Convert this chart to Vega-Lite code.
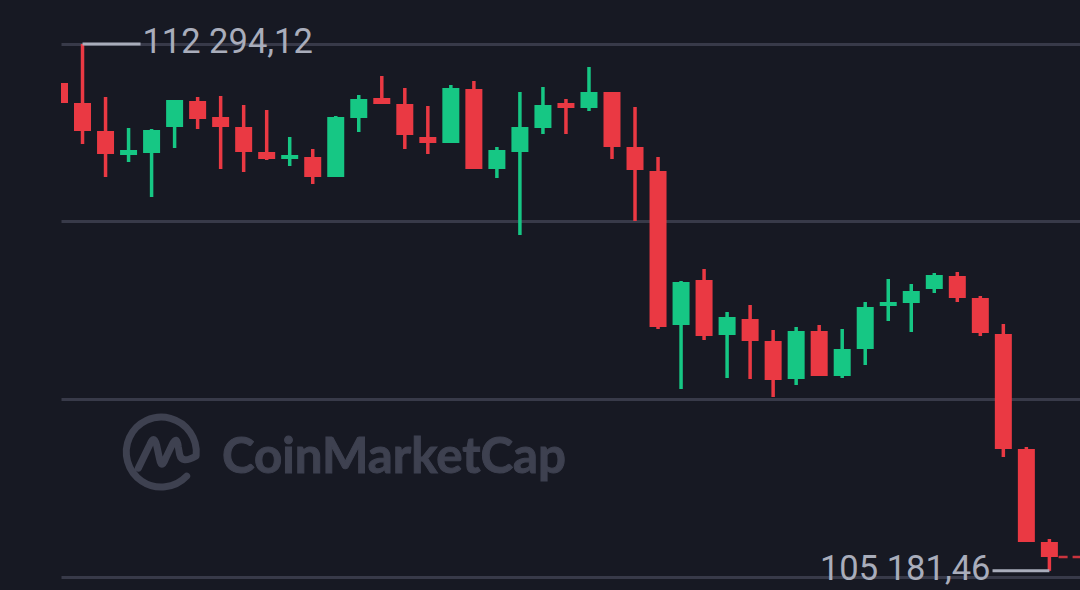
{
"$schema":"https://vega.github.io/schema/vega-lite/v6.json",
"autosize":{"type":"none"},
"padding":{"left":61,"top":0,"right":0,"bottom":0},
"width":1019,"height":590,
"background":"#171923",
"view":{"stroke":null},
"datasets":{
"candles":[
{"t":0,"open":111767.5,"close":111497.5,"high":111767.5,"low":111497.5,"dir":"down"},
{"t":1,"open":111497.5,"close":111119.5,"high":112294.12,"low":110944,"dir":"down"},
{"t":2,"open":111119.5,"close":110809,"high":111578.5,"low":110498.5,"dir":"down"},
{"t":3,"open":110795.5,"close":110863,"high":111160,"low":110701,"dir":"up"},
{"t":4,"open":110822.5,"close":111133,"high":111146.5,"low":110228.5,"dir":"up"},
{"t":5,"open":111173.5,"close":111538,"high":111538,"low":110890,"dir":"up"},
{"t":6,"open":111524.5,"close":111281.5,"high":111578.5,"low":111146.5,"dir":"down"},
{"t":7,"open":111308.5,"close":111173.5,"high":111592,"low":110606.5,"dir":"down"},
{"t":8,"open":111173.5,"close":110836,"high":111470.5,"low":110566,"dir":"down"},
{"t":9,"open":110836,"close":110741.5,"high":111403,"low":110728,"dir":"down"},
{"t":10,"open":110741.5,"close":110795.5,"high":111038.5,"low":110647,"dir":"up"},
{"t":11,"open":110768.5,"close":110498.5,"high":110876.5,"low":110404,"dir":"down"},
{"t":12,"open":110498.5,"close":111308.5,"high":111322,"low":110498.5,"dir":"up"},
{"t":13,"open":111295,"close":111551.5,"high":111605.5,"low":111106,"dir":"up"},
{"t":14,"open":111565,"close":111484,"high":111862,"low":111484,"dir":"down"},
{"t":15,"open":111484,"close":111065.5,"high":111700,"low":110876.5,"dir":"down"},
{"t":16,"open":111038.5,"close":110957.5,"high":111457,"low":110809,"dir":"down"},
{"t":17,"open":110957.5,"close":111700,"high":111740.5,"low":110957.5,"dir":"up"},
{"t":18,"open":111686.5,"close":110606.5,"high":111794.5,"low":110606.5,"dir":"down"},
{"t":19,"open":110606.5,"close":110863,"high":110903.5,"low":110485,"dir":"up"},
{"t":20,"open":110836,"close":111173.5,"high":111646,"low":109715.5,"dir":"up"},
{"t":21,"open":111160,"close":111470.5,"high":111713.5,"low":111079,"dir":"up"},
{"t":22,"open":111497.5,"close":111430,"high":111551.5,"low":111079,"dir":"down"},
{"t":23,"open":111430,"close":111646,"high":111983.5,"low":111389.5,"dir":"up"},
{"t":24,"open":111646,"close":110903.5,"high":111646,"low":110741.5,"dir":"down"},
{"t":25,"open":110903.5,"close":110593,"high":111443.5,"low":109904.5,"dir":"down"},
{"t":26,"open":110579.5,"close":108473.5,"high":110768.5,"low":108446.5,"dir":"down"},
{"t":27,"open":108500.5,"close":109081,"high":109094.5,"low":107636.5,"dir":"up"},
{"t":28,"open":109108,"close":108352,"high":109256.5,"low":108298,"dir":"down"},
{"t":29,"open":108365.5,"close":108608.5,"high":108676,"low":107785,"dir":"up"},
{"t":30,"open":108581.5,"close":108284.5,"high":108770.5,"low":107771.5,"dir":"down"},
{"t":31,"open":108284.5,"close":107758,"high":108433,"low":107528.5,"dir":"down"},
{"t":32,"open":107771.5,"close":108419.5,"high":108473.5,"low":107690.5,"dir":"up"},
{"t":33,"open":108419.5,"close":107812,"high":108500.5,"low":107812,"dir":"down"},
{"t":34,"open":107812,"close":108176.5,"high":108446.5,"low":107785,"dir":"up"},
{"t":35,"open":108176.5,"close":108743.5,"high":108811,"low":107960.5,"dir":"up"},
{"t":36,"open":108757,"close":108811,"high":109121.5,"low":108554.5,"dir":"up"},
{"t":37,"open":108797.5,"close":108959.5,"high":109054,"low":108406,"dir":"up"},
{"t":38,"open":108986.5,"close":109175.5,"high":109202.5,"low":108932.5,"dir":"up"},
{"t":39,"open":109162,"close":108865,"high":109216,"low":108811,"dir":"down"},
{"t":40,"open":108865,"close":108392.5,"high":108892,"low":108352,"dir":"down"},
{"t":41,"open":108379,"close":106826.5,"high":108514,"low":106718.5,"dir":"down"},
{"t":42,"open":106826.5,"close":105571,"high":106853.5,"low":105571,"dir":"down"},
{"t":43,"open":105571,"close":105368.5,"high":105611.5,"low":105181.46,"dir":"down"}
],
"callouts":[
{"t":1,"tEnd":3.52,"tLabel":3.6,"price":112294.12,"label":"112 294,12","side":"high"},
{"t":43,"tEnd":40.53,"tLabel":40.44,"price":105181.46,"label":"105 181,46","side":"low"}
],
"last":[{"t":43.4,"tEnd":44.35,"price":105368.5}],
"brandIcon":[{"t":4.43,"price":106786}],
"brandText":[{"t":7.06,"price":106710,"label":"CoinMarketCap"}]
},
"layer":[
{"data":{"name":"brandIcon"},
"mark":{"type":"point","filled":false,"stroke":"#3e4150","strokeWidth":7,"opacity":1,"strokeCap":"round","strokeJoin":"round",
"shape":"M 0.99 0.1 A 1 1 0 1 0 0.72 0.69 M -0.66 0.46 L -0.34 -0.2 Q -0.22 -0.52 -0.14 -0.2 L -0.06 0.18 Q 0 0.52 0.12 0.18 L 0.3 -0.2 Q 0.44 -0.5 0.48 -0.15 L 0.52 0.08 Q 0.58 0.34 0.98 0.12",
"size":4900},
"encoding":{
"x":{"field":"t","type":"quantitative","scale":{"domain":[0.065,44.33],"nice":false,"zero":false,"padding":0},"axis":null},
"y":{"field":"price","type":"quantitative","scale":{"domain":[104923,112888],"nice":false,"zero":false},
"axis":{"values":[105100,107500,109900,112300],"grid":true,"gridColor":"#383a49","gridWidth":3,"domain":false,"ticks":false,"labels":false,"title":null}}}},
{"data":{"name":"brandText"},
"mark":{"type":"text","font":"Lato","fontWeight":"bold","fontSize":49.2,"align":"left","baseline":"middle","fill":"#3e4150","stroke":"#3e4150","strokeWidth":1},
"encoding":{
"x":{"field":"t","type":"quantitative","scale":{"domain":[0.065,44.33],"nice":false,"zero":false,"padding":0},"axis":null},
"y":{"field":"price","type":"quantitative","scale":{"domain":[104923,112888],"nice":false,"zero":false}},
"text":{"field":"label"}}},
{"data":{"name":"candles"},
"mark":{"type":"rule","strokeWidth":3.5,"clip":true},
"encoding":{
"x":{"field":"t","type":"quantitative","scale":{"domain":[0.065,44.33],"nice":false,"zero":false,"padding":0},"axis":null},
"y":{"field":"low","type":"quantitative","scale":{"domain":[104923,112888],"nice":false,"zero":false}},
"y2":{"field":"high"},
"color":{"field":"dir","type":"nominal","scale":{"domain":["up","down"],"range":["#16c784","#ea3943"]},"legend":null}}},
{"data":{"name":"candles"},
"mark":{"type":"bar","size":17,"clip":true},
"encoding":{
"x":{"field":"t","type":"quantitative","scale":{"domain":[0.065,44.33],"nice":false,"zero":false,"padding":0},"axis":null},
"y":{"field":"open","type":"quantitative","scale":{"domain":[104923,112888],"nice":false,"zero":false}},
"y2":{"field":"close"},
"color":{"field":"dir","type":"nominal","scale":{"domain":["up","down"],"range":["#16c784","#ea3943"]},"legend":null}}},
{"data":{"name":"last"},
"mark":{"type":"rule","strokeWidth":2.5,"stroke":"#ea3943","strokeDash":[9,5],"opacity":0.85},
"encoding":{
"x":{"field":"t","type":"quantitative","scale":{"domain":[0.065,44.33],"nice":false,"zero":false,"padding":0},"axis":null},
"x2":{"field":"tEnd"},
"y":{"field":"price","type":"quantitative","scale":{"domain":[104923,112888],"nice":false,"zero":false}}}},
{"data":{"name":"callouts"},
"mark":{"type":"rule","strokeWidth":3,"stroke":"#a9adbb"},
"encoding":{
"x":{"field":"t","type":"quantitative","scale":{"domain":[0.065,44.33],"nice":false,"zero":false,"padding":0},"axis":null},
"x2":{"field":"tEnd"},
"y":{"field":"price","type":"quantitative","scale":{"domain":[104923,112888],"nice":false,"zero":false}}}},
{"data":{"name":"callouts"},
"transform":[{"filter":"datum.side==='high'"}],
"mark":{"type":"text","font":"Roboto","fontSize":34.5,"align":"left","baseline":"middle","fill":"#a9adbb","dy":-1},
"encoding":{
"x":{"field":"tLabel","type":"quantitative","scale":{"domain":[0.065,44.33],"nice":false,"zero":false,"padding":0},"axis":null},
"y":{"field":"price","type":"quantitative","scale":{"domain":[104923,112888],"nice":false,"zero":false}},
"text":{"field":"label"}}},
{"data":{"name":"callouts"},
"transform":[{"filter":"datum.side==='low'"}],
"mark":{"type":"text","font":"Roboto","fontSize":34.5,"align":"right","baseline":"middle","fill":"#a9adbb","dy":-1},
"encoding":{
"x":{"field":"tLabel","type":"quantitative","scale":{"domain":[0.065,44.33],"nice":false,"zero":false,"padding":0},"axis":null},
"y":{"field":"price","type":"quantitative","scale":{"domain":[104923,112888],"nice":false,"zero":false}},
"text":{"field":"label"}}}
]
}
